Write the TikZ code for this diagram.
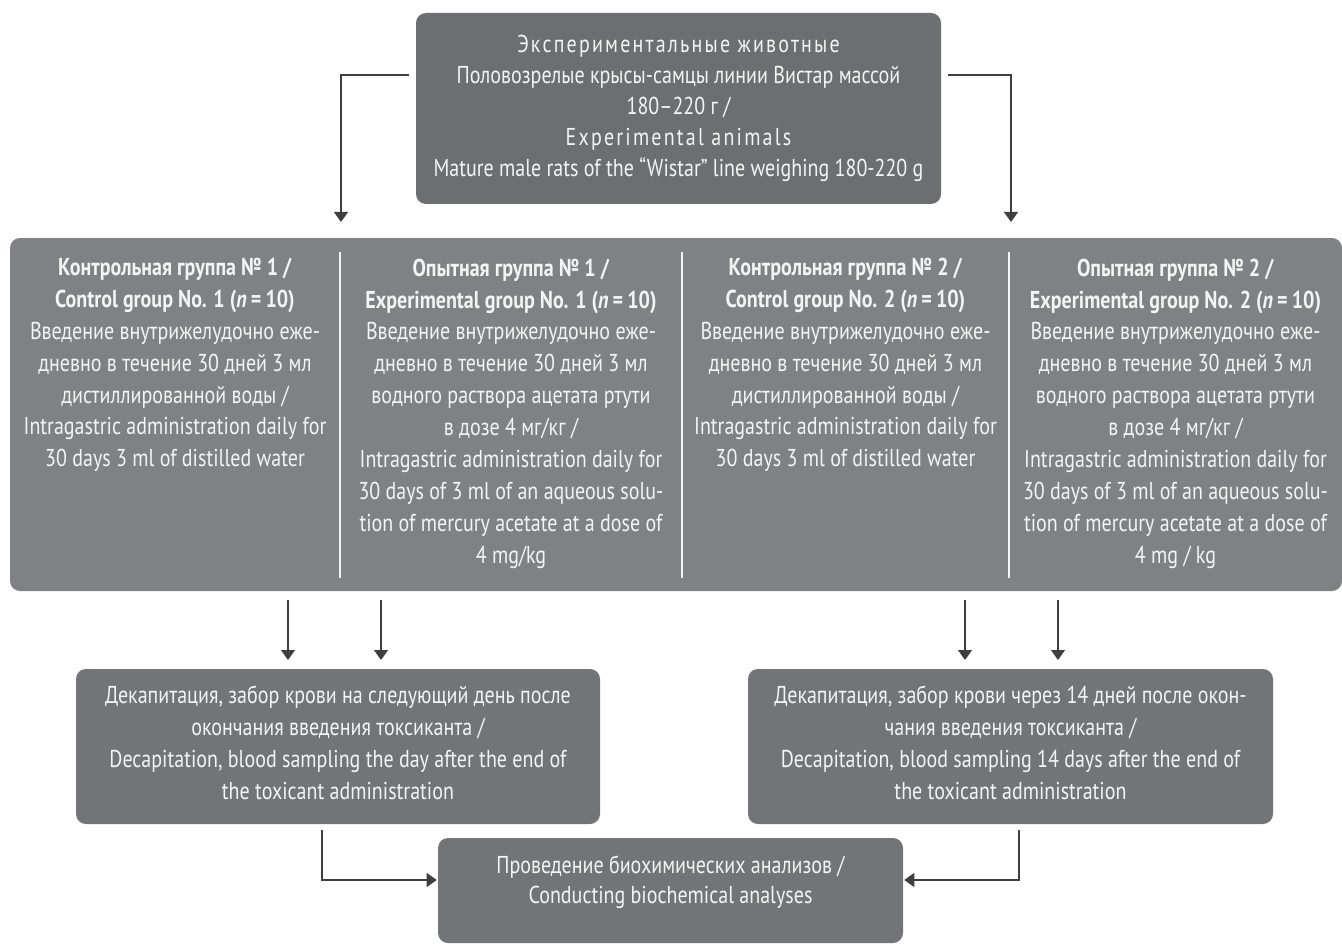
\documentclass[tikz,border=0pt]{standalone}
\usepackage{fontspec}
\setmainfont{PT Sans}[FakeStretch=0.82]
\usetikzlibrary{arrows.meta}
\definecolor{boxdark}{HTML}{6D6E71}
\definecolor{boxmid}{HTML}{737478}
\definecolor{boxlight}{HTML}{808185}
\definecolor{txt}{HTML}{F4F4F4}
\definecolor{linec}{HTML}{3F3F3F}
\tikzset{
  box/.style={fill=#1, rounded corners=7.5pt, inner sep=0pt, align=center, text=txt,
    font=\fontsize{18.3}{23.6}\selectfont},
  coltext/.style={inner sep=0pt, align=center, text=txt, font=\fontsize{18.3}{23.9}\selectfont},
  arr/.style={draw=linec, line width=0.9pt, -{Triangle[width=10.5pt,length=7.5pt]}},
  divider/.style={draw=txt, line width=0.8pt},
}
\begin{document}
\begin{tikzpicture}[x=0.75pt,y=-0.75pt]
\useasboundingbox (0,0) rectangle (1342,945);
% top box
\node[box=boxdark, minimum width=393.75pt, minimum height=143.25pt, font=\fontsize{18.3}{23.3}\selectfont] (top) at (678.5,108.5)
{{\addfontfeature{LetterSpace=9}Экспериментальные животные}\\
Половозрелые крысы-самцы линии Вистар массой\\
180–220 г /\\
{\addfontfeature{LetterSpace=9}Experimental animals}\\
Mature male rats of the “Wistar” line weighing 180-220 g};
% group box
\node[box=boxlight, minimum width=999pt, minimum height=264.75pt] (grp) at (676,414.5) {};
\coordinate (d1t) at (340,252); \coordinate (d1b) at (340,578);
\coordinate (d2t) at (682,252); \coordinate (d2b) at (682,578);
\coordinate (d3t) at (1009,252); \coordinate (d3b) at (1009,578);
\draw[divider] (d1t) -- (d1b);
\draw[divider] (d2t) -- (d2b);
\draw[divider] (d3t) -- (d3b);
\node[coltext] (c1) at (175,365)
{\textbf{Контрольная группа № 1 /}\\
\textbf{Control group No. 1 (\textit{n}\,=\,10)}\\
Введение внутрижелудочно еже-\\
дневно в течение 30 дней 3 мл\\
дистиллированной воды /\\
Intragastric administration daily for\\
30 days 3 ml of distilled water};
\node[coltext] (c2) at (511,413.5)
{\textbf{Опытная группа № 1 /}\\
\textbf{Experimental group No. 1 (\textit{n}\,=\,10)}\\
Введение внутрижелудочно еже-\\
дневно в течение 30 дней 3 мл\\
водного раствора ацетата ртути\\
в дозе 4 мг/кг /\\
Intragastric administration daily for\\
30 days of 3 ml of an aqueous solu-\\
tion of mercury acetate at a dose of\\
4 mg/kg};
\node[coltext] (c3) at (845.5,365)
{\textbf{Контрольная группа № 2 /}\\
\textbf{Control group No. 2 (\textit{n}\,=\,10)}\\
Введение внутрижелудочно еже-\\
дневно в течение 30 дней 3 мл\\
дистиллированной воды /\\
Intragastric administration daily for\\
30 days 3 ml of distilled water};
\node[coltext] (c4) at (1175.5,413.5)
{\textbf{Опытная группа № 2 /}\\
\textbf{Experimental group No. 2 (\textit{n}\,=\,10)}\\
Введение внутрижелудочно еже-\\
дневно в течение 30 дней 3 мл\\
водного раствора ацетата ртути\\
в дозе 4 мг/кг /\\
Intragastric administration daily for\\
30 days of 3 ml of an aqueous solu-\\
tion of mercury acetate at a dose of\\
4 mg / kg};
% bottom boxes
\node[box=boxmid, minimum width=393pt, minimum height=116.25pt] (b1) at (338,746.5) {};
\node[coltext] (t1) at (338,743)
{Декапитация, забор крови на следующий день после\\
окончания введения токсиканта /\\
Decapitation, blood sampling the day after the end of\\
the toxicant administration};
\node[box=boxmid, minimum width=393.75pt, minimum height=116.25pt] (b2) at (1010.5,746.5) {};
\node[coltext] (t2) at (1010.5,743)
{Декапитация, забор крови через 14 дней после окон-\\
чания введения токсиканта /\\
Decapitation, blood sampling 14 days after the end of\\
the toxicant administration};
\node[box=boxmid, minimum width=348.75pt, minimum height=78.75pt] (fin) at (670.5,890.5) {};
\node[coltext, font=\fontsize{18.3}{22.5}\selectfont] (tf) at (670.5,882)
{Проведение биохимических анализов /\\
Conducting biochemical analyses};
% connectors
\coordinate (s1) at (409,75); \coordinate (e1) at (341,222);
\coordinate (s2) at (948,75); \coordinate (e2) at (1011,222);
\draw[arr] (s1) -| (e1);
\draw[arr] (s2) -| (e2);
\coordinate (g1s) at (288,600); \coordinate (g1e) at (288,660);
\coordinate (g2s) at (381,600); \coordinate (g2e) at (381,660);
\coordinate (g3s) at (965,600); \coordinate (g3e) at (965,660);
\coordinate (g4s) at (1058,600); \coordinate (g4e) at (1058,660);
\draw[arr] (g1s) -- (g1e);
\draw[arr] (g2s) -- (g2e);
\draw[arr] (g3s) -- (g3e);
\draw[arr] (g4s) -- (g4e);
\coordinate (f1s) at (322,830); \coordinate (f2s) at (1019,830);
\draw[arr] (f1s) |- ([xshift=-0.75pt]fin.west |- 0,880);
\draw[arr] (f2s) |- ([xshift=0.75pt]fin.east |- 0,880);
\end{tikzpicture}
\end{document}
